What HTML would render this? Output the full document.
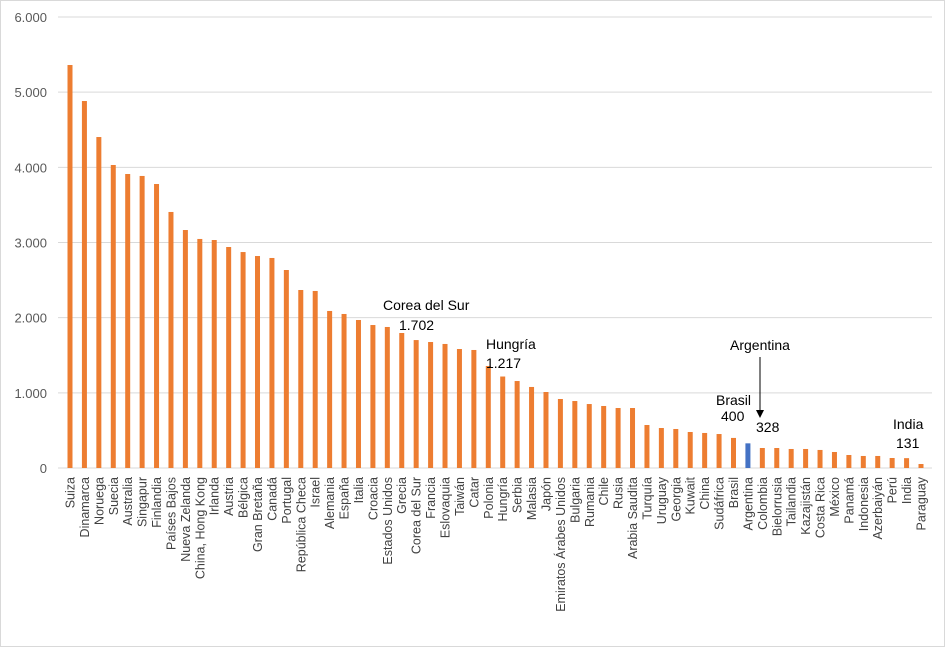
<!DOCTYPE html>
<html><head><meta charset="utf-8"><style>body{margin:0;background:#fff}svg{display:block;font-family:"Liberation Sans",Arial,sans-serif}</style></head><body>
<svg width="945" height="647" viewBox="0 0 945 647" xmlns="http://www.w3.org/2000/svg">
<rect x="0.5" y="0.5" width="944" height="646" fill="#fff" stroke="#d9d9d9"/>
<g id="grid" stroke="#d9d9d9" stroke-width="1"></g>
<g id="yl" font-size="13" fill="#595959" text-anchor="end"></g>
<g id="bars"></g>
<g id="xl" font-size="12.5" fill="#404040" text-anchor="end"></g>
<g font-size="14" fill="#000">
<text x="383" y="310">Corea del Sur</text><text x="399" y="330">1.702</text>
<text x="486" y="349">Hungría</text><text x="486" y="368">1.217</text>
<text x="730" y="350">Argentina</text>
<text x="716" y="405">Brasil</text><text x="721" y="421">400</text><text x="756" y="432">328</text>
<text x="893" y="429">India</text><text x="896" y="448">131</text>
</g>
<line x1="760" y1="357" x2="760" y2="411" stroke="#000" stroke-width="1"/>
<polygon points="756,410 764,410 760,418" fill="#000"/>
<script>
var ns="http://www.w3.org/2000/svg";
function el(p,t,a,txt){var e=document.createElementNS(ns,t);for(var k in a)e.setAttribute(k,a[k]);if(txt!==undefined)e.textContent=txt;document.getElementById(p).appendChild(e);}
var y0=468,s=75.17;
for(var i=0;i<=6;i++){var y=y0-i*s;el("grid","line",{x1:58,x2:932,y1:y,y2:y});el("yl","text",{x:47,y:y+5},i===0?"0":i+".000");}
var d=[["Suiza",5361],["Dinamarca",4882],["Noruega",4403],["Suecia",4031],["Australia",3911],["Singapur",3885],["Finlandia",3778],["Países Bajos",3406],["Nueva Zelanda",3166],["China, Hong Kong",3047],["Irlanda",3033],["Austria",2940],["Bélgica",2873],["Gran Bretaña",2820],["Canadá",2794],["Portugal",2634],["República Checa",2368],["Israel",2355],["Alemania",2089],["España",2049],["Italia",1969],["Croacia",1902],["Estados Unidos",1876],["Grecia",1796],["Corea del Sur",1702],["Francia",1676],["Eslovaquia",1650],["Taiwán",1583],["Catar",1570],["Polonia",1357],["Hungría",1217],["Serbia",1157],["Malasia",1078],["Japón",1011],["Emiratos Árabes Unidos",918],["Bulgaria",891],["Rumania",851],["Chile",825],["Rusia",798],["Arabia Saudita",798],["Turquía",572],["Uruguay",532],["Georgia",519],["Kuwait",479],["China",466],["Sudáfrica",452],["Brasil",400],["Argentina",328],["Colombia",266],["Bielorrusia",266],["Tailandia",253],["Kazajistán",253],["Costa Rica",240],["México",213],["Panamá",173],["Indonesia",160],["Azerbaiyán",160],["Perú",133],["India",131],["Paraguay",53]];
var dx=(921-70)/59;
d.forEach(function(r,i){var x=70+i*dx,h=r[1]*s/1000;
el("bars","rect",{x:x-2.5,y:y0-h,width:5,height:h,fill:r[0]=="Argentina"?"#4472c4":"#ed7d31"});
el("xl","text",{x:0,y:0,transform:"translate("+(x+4.5)+",477) rotate(-90)"},r[0]);});
</script>
</svg>
</body></html>
